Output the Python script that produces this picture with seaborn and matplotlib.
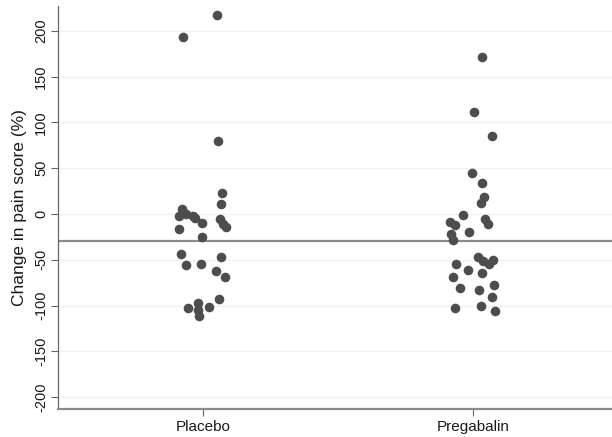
import numpy as np
import pandas as pd
import matplotlib
matplotlib.use("Agg")
import matplotlib.pyplot as plt
import seaborn as sns

groups = ["Placebo", "Pregabalin"]

placebo_change = [217, 193, 80, 23, 11, 5, 0, -2, -2, -4, -10, -6, -11, -14,
                  -16, -25, -44, -56, -55, -47, -62, -69, -93, -102, -97,
                  -103, -111, -105]
placebo_jitter = [0.052, -0.074, 0.056, 0.071, 0.065, -0.079, -0.063, -0.089,
                  -0.036, -0.030, -0.005, 0.063, 0.075, 0.085, -0.089, -0.004,
                  -0.083, -0.063, -0.009, 0.066, 0.046, 0.080, 0.057, 0.022,
                  -0.021, -0.058, -0.017, -0.020]

pregabalin_change = [171, 111, 85, 45, 34, 18, 12, -1, -6, -11, -20, -9, -12,
                     -22, -28, -47, -51, -55, -50, -55, -61, -64, -69, -81,
                     -83, -78, -91, -103, -100, -106]
pregabalin_jitter = [0.034, 0.004, 0.069, -0.005, 0.034, 0.041, 0.029, -0.036,
                     0.044, 0.057, -0.015, -0.085, -0.067, -0.083, -0.075,
                     0.020, 0.038, 0.060, 0.075, -0.063, -0.017, 0.034, -0.075,
                     -0.048, 0.022, 0.078, 0.069, -0.067, 0.029, 0.081]

reference_line = -30
y_ticks = [-200, -150, -100, -50, 0, 50, 100, 150, 200]

df = pd.DataFrame({
    "group": [groups[0]] * len(placebo_change) + [groups[1]] * len(pregabalin_change),
    "change": placebo_change + pregabalin_change,
    "jitter": placebo_jitter + pregabalin_jitter,
})
df["xpos"] = df["group"].map({g: i for i, g in enumerate(groups)}) + df["jitter"]

sns.set_theme(style="white")
plt.rcParams["font.family"] = ["Liberation Sans", "DejaVu Sans"]

fig = plt.figure(figsize=(6.12, 4.37), dpi=100)
ax = fig.add_axes([58 / 612, 1 - 409 / 437, 1 - 58 / 612, (409 - 6) / 437])

for t in y_ticks:
    ax.axhline(t, color="#f1f1f1", lw=1.0, zorder=0)

ax.axhline(reference_line, color="#8c8c8c", lw=1.6, zorder=1)

sns.scatterplot(data=df, x="xpos", y="change", ax=ax, color="#4d4d4d",
                s=48, linewidth=0, zorder=3, legend=False)

ax.set_xlim(-0.538, 1.515)
ax.set_ylim(-213, 227)
ax.set_xticks(range(len(groups)))
ax.set_xticklabels(groups, fontsize=11, color="#1a1a1a")
ax.set_yticks(y_ticks)
ax.set_yticklabels([str(t) for t in y_ticks], rotation=90, va="center",
                   fontsize=10.5, color="#1a1a1a")
ax.set_xlabel("")
ax.set_ylabel("Change in pain score (%)", fontsize=12.5, color="#1a1a1a", labelpad=5)

for side in ["top", "right"]:
    ax.spines[side].set_visible(False)
ax.spines["left"].set_color("#666666")
ax.spines["left"].set_linewidth(0.9)
ax.spines["bottom"].set_color("#8c8c8c")
ax.spines["bottom"].set_linewidth(1.6)
ax.tick_params(axis="both", which="both", direction="out", length=5,
               width=0.8, color="#666666", pad=2, left=True, bottom=True)
ax.tick_params(axis="x", pad=3)

fig.savefig("out.png", dpi=100)
